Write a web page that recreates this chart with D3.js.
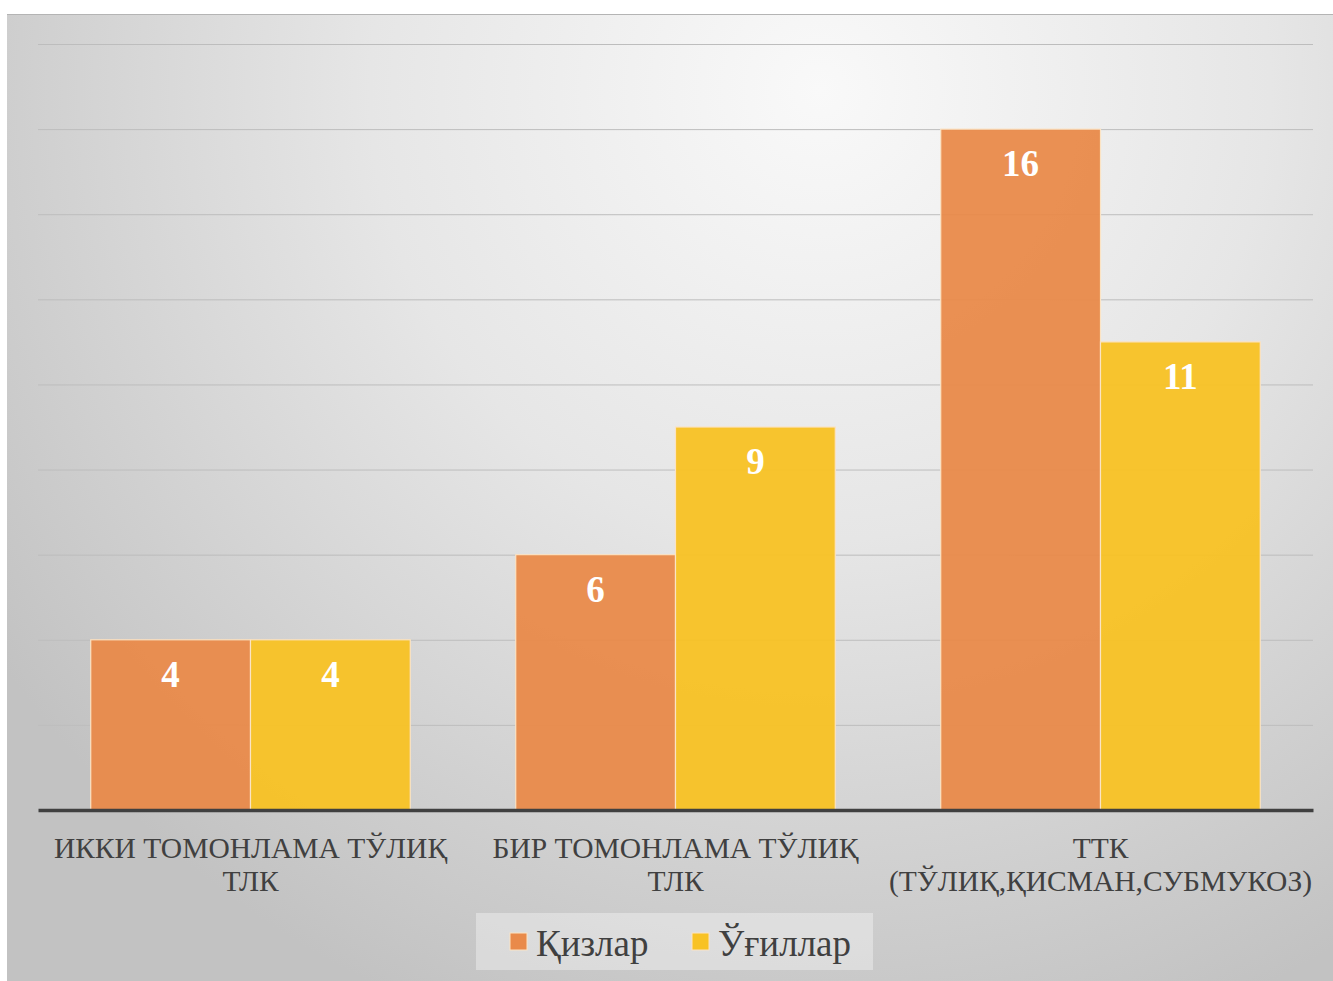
<!DOCTYPE html>
<html>
<head>
<meta charset="utf-8">
<script src="https://cdn.jsdelivr.net/npm/d3@7"></script>
<style>
  html, body { margin: 0; padding: 0; background: #ffffff; }
  svg { display: block; }
</style>
</head>
<body>
<div id="root"></div>
<script>
const categories = [
  ["ИККИ ТОМОНЛАМА ТЎЛИҚ", "ТЛК"],
  ["БИР ТОМОНЛАМА ТЎЛИҚ", "ТЛК"],
  ["ТТК", "(ТЎЛИҚ,ҚИСМАН,СУБМУКОЗ)"]
];
const seriesNames = ["Қизлар", "Ўғиллар"];
const girls = [4, 6, 16];
const boys = [4, 9, 11];
const yTicks = [0, 2, 4, 6, 8, 10, 12, 14, 16, 18];

const CONFIG = {
  width: 1333,
  height: 981,
  frame: { x: 7, y: 14 },
  plot: { left: 38, right: 1313, top: 44, bottom: 810 },
  colors: ["#e98a4a", "#f8c224"],
  font: "'Liberation Serif', 'Times New Roman', serif"
};

function drawChart() {
  const { width, height, plot } = CONFIG;

  const svg = d3.select("#root")
    .append("svg")
    .attr("width", width)
    .attr("height", height);

  const defs = svg.append("defs");
  const grad = defs.append("radialGradient")
    .attr("id", "bg")
    .attr("gradientUnits", "userSpaceOnUse")
    .attr("cx", 820).attr("cy", 90).attr("r", 1000);
  grad.append("stop").attr("offset", "0").attr("stop-color", "#f9f9f9");
  grad.append("stop").attr("offset", "0.45").attr("stop-color", "#e6e6e6");
  grad.append("stop").attr("offset", "1").attr("stop-color", "#c2c2c2");

  // background frame
  svg.append("rect")
    .attr("x", CONFIG.frame.x)
    .attr("y", CONFIG.frame.y)
    .attr("width", width - CONFIG.frame.x)
    .attr("height", height - CONFIG.frame.y)
    .attr("fill", "url(#bg)");

  svg.append("line")
    .attr("x1", CONFIG.frame.x).attr("x2", width)
    .attr("y1", CONFIG.frame.y + 0.5).attr("y2", CONFIG.frame.y + 0.5)
    .attr("stroke", "#b4b4b4").attr("stroke-width", 1);

  const y = d3.scaleLinear()
    .domain([0, 18])
    .range([plot.bottom, plot.top]);

  const x0 = d3.scaleBand()
    .domain(d3.range(categories.length))
    .range([plot.left, plot.right]);

  const x1 = d3.scaleBand()
    .domain(d3.range(seriesNames.length))
    .range([0, x0.bandwidth()])
    .paddingOuter(0.33)
    .paddingInner(0);

  // gridlines
  const yAxis = d3.axisLeft(y)
    .tickValues(yTicks.filter(d => d > 0))
    .tickSize(-(plot.right - plot.left))
    .tickFormat("");

  svg.append("g")
    .attr("transform", `translate(${plot.left},0)`)
    .call(yAxis)
    .call(g => g.select(".domain").remove())
    .call(g => g.selectAll(".tick line").attr("stroke", "#bdbdbd").attr("stroke-width", 1));

  const series = [girls, boys];
  const rows = [];
  series.forEach((vals, s) => vals.forEach((v, c) => rows.push({ s, c, v })));

  const bars = svg.append("g");
  bars.selectAll("rect")
    .data(rows)
    .enter()
    .append("rect")
    .attr("x", d => x0(d.c) + x1(d.s))
    .attr("y", d => y(d.v))
    .attr("width", x1.bandwidth())
    .attr("height", d => y(0) - y(d.v))
    .attr("fill", d => CONFIG.colors[d.s])
    .attr("fill-opacity", 0.95)
    .attr("stroke", "#fbe3c4")
    .attr("stroke-width", 1.2);

  bars.selectAll("text")
    .data(rows)
    .enter()
    .append("text")
    .attr("x", d => x0(d.c) + x1(d.s) + x1.bandwidth() / 2)
    .attr("y", d => y(d.v) + 47)
    .attr("text-anchor", "middle")
    .attr("fill", "#ffffff")
    .attr("font-family", CONFIG.font)
    .attr("font-weight", "bold")
    .attr("font-size", 37)
    .text(d => d.v);

  // baseline / x axis
  const xAxis = d3.axisBottom(x0).tickSize(0).tickFormat("");
  svg.append("g")
    .attr("transform", `translate(0,${plot.bottom})`)
    .call(xAxis)
    .call(g => g.select(".domain").attr("stroke", "#404040").attr("stroke-width", 3.5));

  const labels = svg.append("g");
  categories.forEach((lines, i) => {
    const t = labels.append("text")
      .attr("x", x0(i) + x0.bandwidth() / 2)
      .attr("y", 858)
      .attr("text-anchor", "middle")
      .attr("fill", "#404040")
      .attr("font-family", CONFIG.font)
      .attr("font-size", 29.5);
    lines.forEach((line, j) => {
      t.append("tspan")
        .attr("x", x0(i) + x0.bandwidth() / 2)
        .attr("dy", j === 0 ? 0 : 33)
        .text(line);
    });
  });

  // legend
  const legend = svg.append("g");
  legend.append("rect")
    .attr("x", 476).attr("y", 913)
    .attr("width", 397).attr("height", 57)
    .attr("fill", "#ffffff").attr("fill-opacity", 0.35);

  const legendX = [510, 692];
  seriesNames.forEach((name, i) => {
    legend.append("rect")
      .attr("x", legendX[i]).attr("y", 933)
      .attr("width", 17).attr("height", 17)
      .attr("fill", CONFIG.colors[i])
      .attr("stroke", "#fbe3c4").attr("stroke-width", 1);
    legend.append("text")
      .attr("x", legendX[i] + 26)
      .attr("y", 956)
      .attr("fill", "#404040")
      .attr("font-family", CONFIG.font)
      .attr("font-size", 37)
      .text(name);
  });
}

drawChart();
</script>
</body>
</html>
